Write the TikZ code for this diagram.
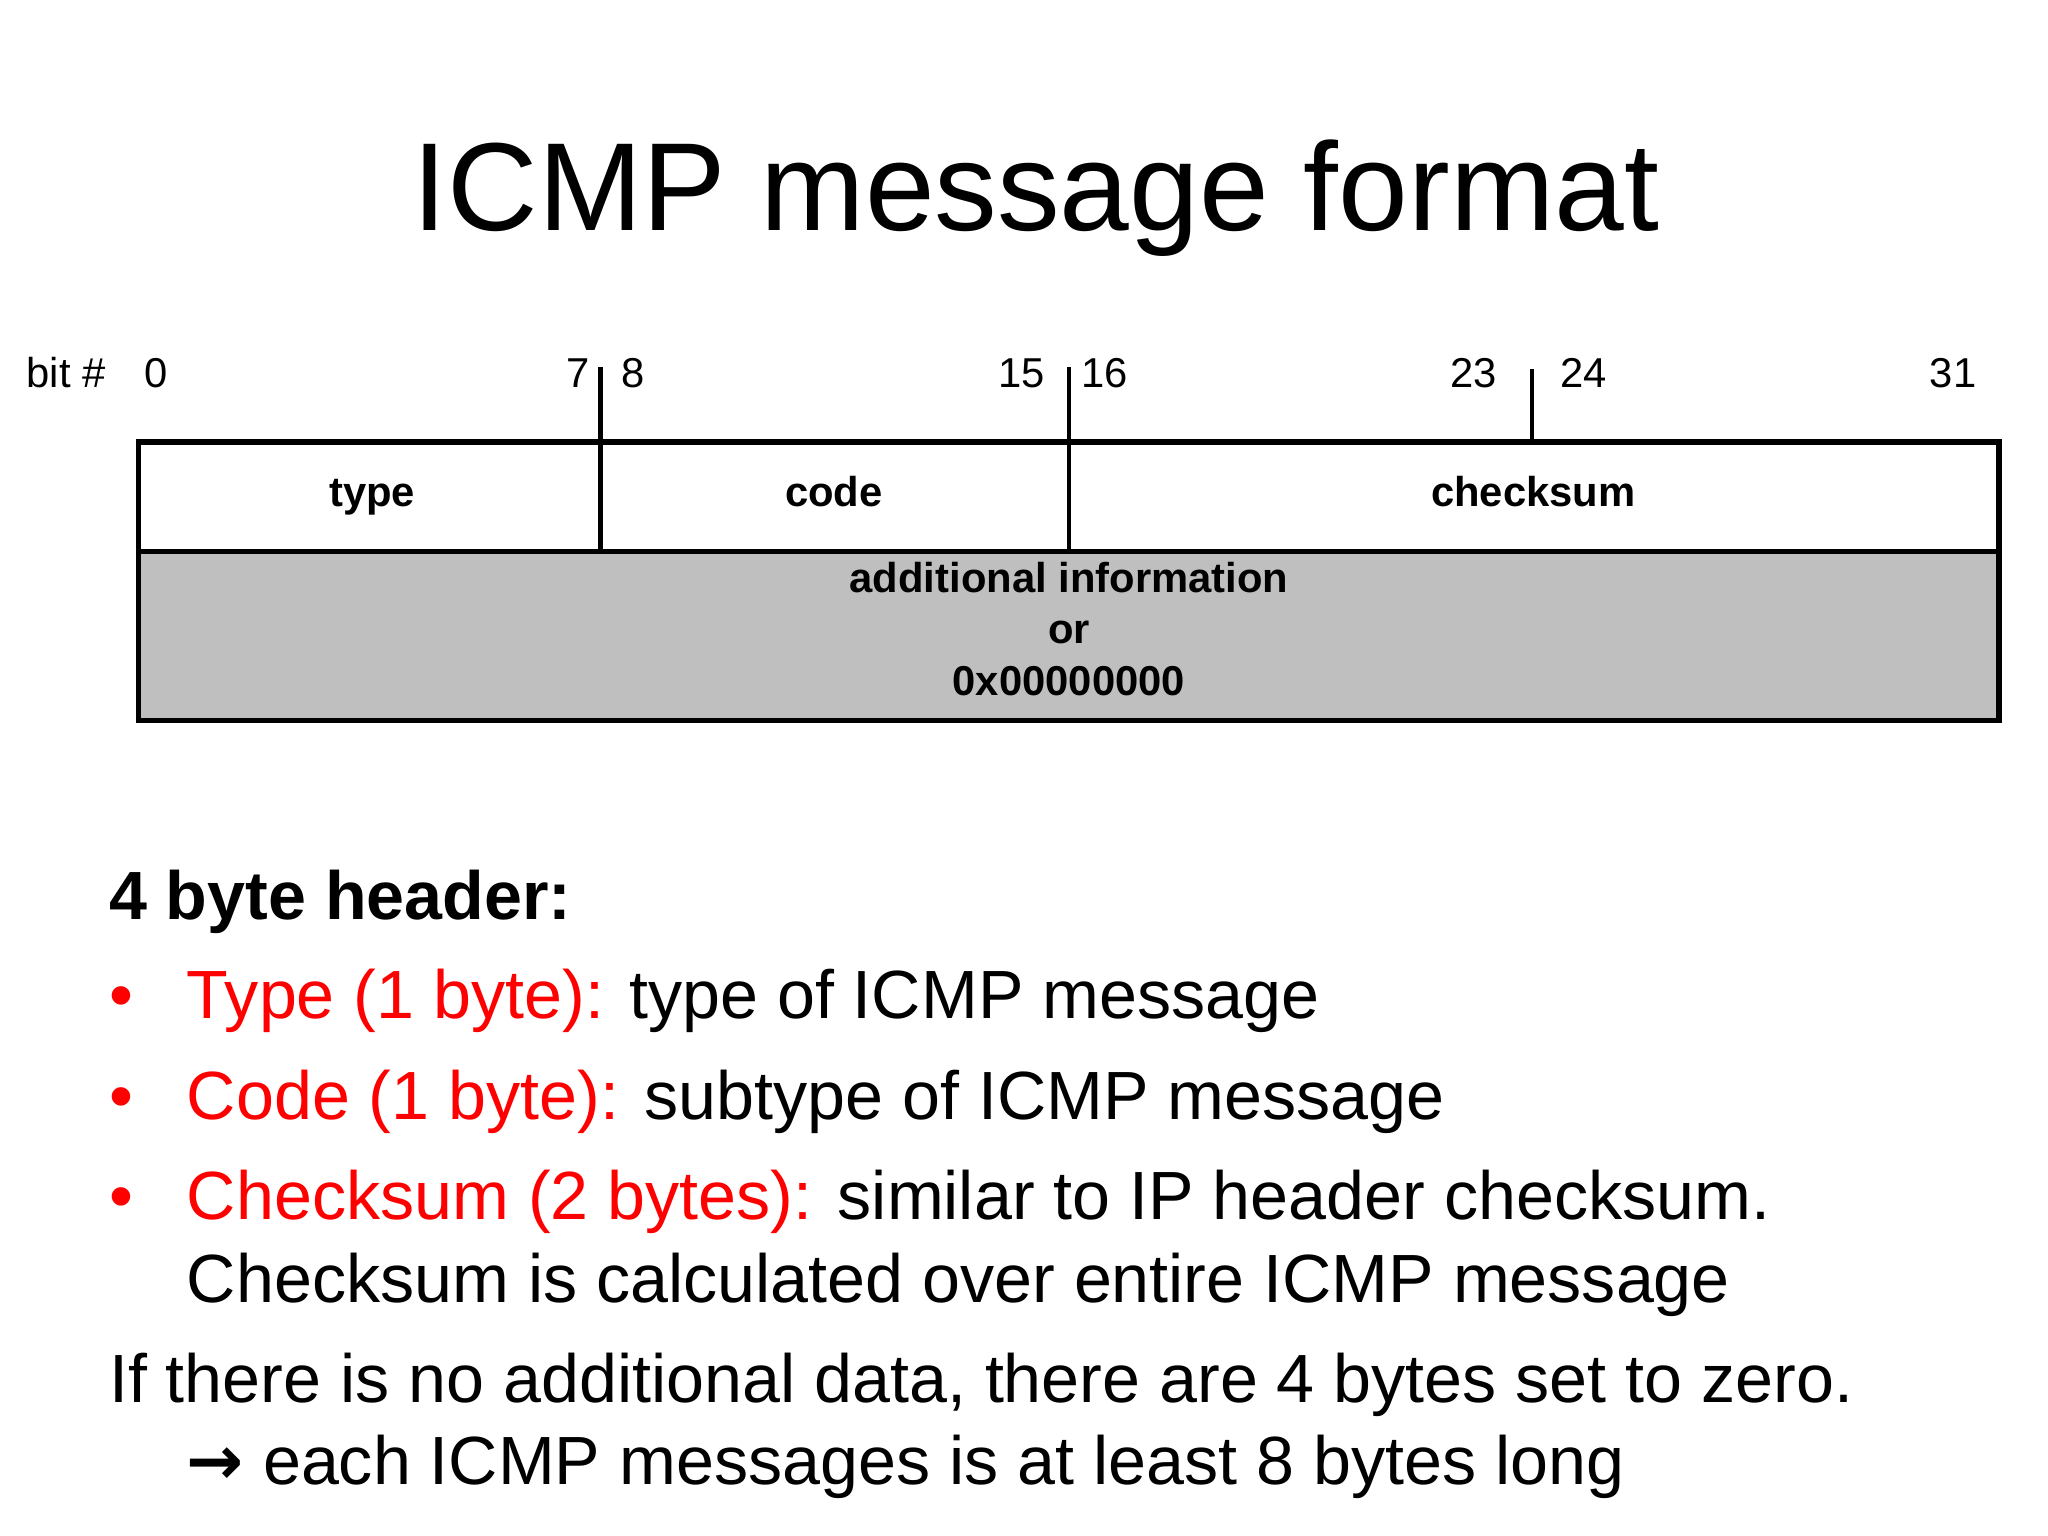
\documentclass[tikz,border=0pt]{standalone}
\usepackage{fontspec}
\setmainfont{Liberation Sans}
\newfontfamily\dv{DejaVu Sans}
\begin{document}
\begin{tikzpicture}[x=0.01cm,y=-0.01cm,
  bitlbl/.style={font=\fontsize{9}{10}\selectfont,anchor=base,inner sep=0pt},
  fld/.style={font=\bfseries\fontsize{9}{11}\selectfont,anchor=base,inner sep=0pt},
  body/.style={font=\fontsize{14.7}{16}\selectfont,anchor=base west,inner sep=0pt},
  hl/.style={red}]
\useasboundingbox (0,0) rectangle (1552,1164);
\node[font=\fontsize{27}{30}\selectfont] (title) at (785,150) {ICMP message format};
% table
\fill[gray!50] (105,418) rectangle (1515,546);
\draw[line width=1.2pt] (105,335) rectangle (1515,546);
\draw[line width=1.2pt] (105,418) -- (1515,418);
\draw[line width=1pt] (455,278) -- (455,418);
\draw[line width=1pt] (810,278) -- (810,418);
\draw[line width=1pt] (1161,280) -- (1161,335);
\node[bitlbl] (b) at (50,294) {bit \#};
\node[bitlbl] (n0) at (118,294) {0};
\node[bitlbl] (n7) at (438,294) {7};
\node[bitlbl] (n8) at (480,294) {8};
\node[bitlbl] (n15) at (774,294) {15};
\node[bitlbl] (n16) at (837,294) {16};
\node[bitlbl] (n23) at (1117,294) {23};
\node[bitlbl] (n24) at (1200,294) {24};
\node[bitlbl] (n31) at (1480,294) {31};
\node[fld] (type) at (282,384) {type};
\node[fld] (code) at (632,384) {code};
\node[fld] (cks) at (1162,384) {checksum};
\node[fld] (add1) at (810,449) {additional information};
\node[fld] (add2) at (810,488) {or};
\node[fld] (add3) at (810,527) {0x00000000};
% body text
\node[body,font=\bfseries\fontsize{14.7}{16}\selectfont] (h) at (82,697) {4 byte header:};
\node[body,red] (bu1) at (82,772) {•};
\node[body] (l1) at (141,772) {\textcolor{red}{Type (1 byte):} type of ICMP message};
\node[body,red] (bu2) at (82,848) {•};
\node[body] (l2) at (141,848) {\textcolor{red}{Code (1 byte):} subtype of ICMP message};
\node[body,red] (bu3) at (82,924) {•};
\node[body] (l3) at (141,924) {\textcolor{red}{Checksum (2 bytes):} similar to IP header checksum.};
\node[body] (l4) at (141,987) {Checksum is calculated over entire ICMP message};
\node[body] (l5) at (82,1063) {If there is no additional data, there are 4 bytes set to zero.};
\node[body] (l6) at (141,1125) {{\dv\bfseries →} each ICMP messages is at least 8 bytes long};
\end{tikzpicture}
\end{document}
